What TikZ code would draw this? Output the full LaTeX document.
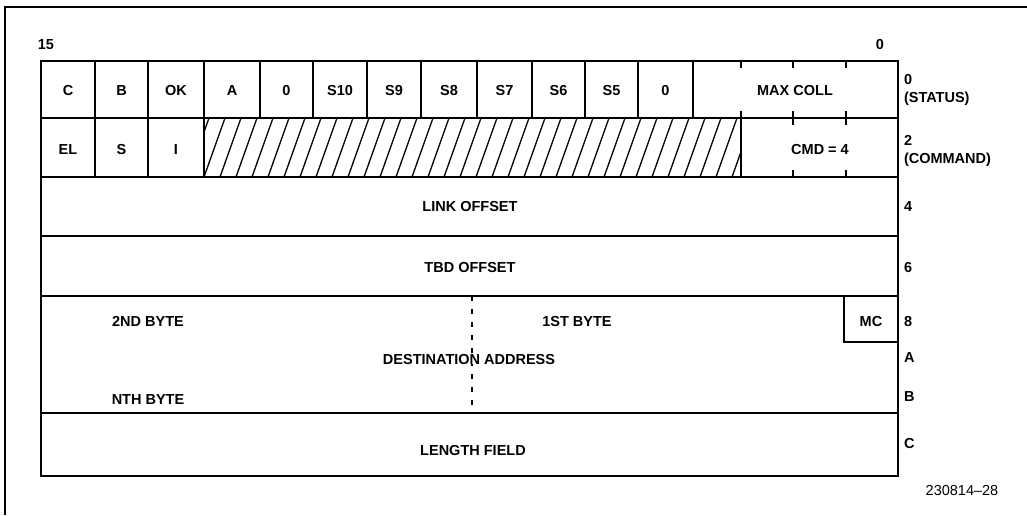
\documentclass[tikz,border=0pt]{standalone}
\usepackage{fontspec}
\setmainfont{Liberation Sans}
\begin{document}
\begin{tikzpicture}[x=1pt, y=-1pt, line width=2pt,
        every node/.style={font=\bfseries\fontsize{14.5}{18}\selectfont, inner sep=1pt},
        side/.style={anchor=west, align=left}]
    \useasboundingbox (0,0) rectangle (1027,515);
    \draw[line width=1.2pt] (5,515) -- (5,7) -- (1027,7);
    % block outline and rows
    \draw (41,61) rectangle (898,476);
    \foreach \y in {118,177,236,296,413}
        \draw (41,\y) -- (898,\y);
    \foreach \x in {95,148,204,260,313,367,421,477,532,585,638,693}
        \draw (\x,61) -- (\x,118);
    \foreach \x in {95,148,204}
        \draw (\x,118) -- (\x,177);
    \draw (741,111) -- (741,177);
    \draw (741,61) -- (741,68);
    \foreach \x in {793,846} {
        \draw (\x,61) -- (\x,68);
        \draw (\x,111) -- (\x,125);
        \draw (\x,170) -- (\x,177);
    }
    % unused bits
    \begin{scope}
        \clip (204,118) rectangle (741,177);
        \foreach \x in {188,204,...,760}
            \draw[line width=1.3pt] (\x,177) -- (\x+21,118);
    \end{scope}
    \draw (844,296) |- (898,342);
    \draw[dash pattern=on 5pt off 8pt] (472,296) -- (472,413);

    \node (hi) at (46,45) {15};
    \node (lo) at (880,45) {0};
    \foreach \l/\r/\t/\n in {41/95/C/c, 95/148/B/b, 148/204/OK/ok, 204/260/A/a,
            260/313/0/z, 313/367/S10/s10, 367/421/S9/s9, 421/477/S8/s8,
            477/532/S7/s7, 532/585/S6/s6, 585/638/S5/s5, 638/693/0/zz}
        \node (\n) at ({(\l+\r)/2},91) {\t};
    \node (maxcoll) at (795,91) {MAX COLL};
    \node (el) at (68,150) {EL};
    \node (s) at (121.5,150) {S};
    \node (i) at (176,150) {I};
    \node (cmd) at (820,150) {CMD = 4};
    \node (link) at (470,207) {LINK OFFSET};
    \node (tbd) at (470,267) {TBD OFFSET};
    \node (second) at (148,321) {2ND BYTE};
    \node (first) at (577,321) {1ST BYTE};
    \node[fill=white, inner sep=0pt] (dest) at (469,359) {DESTINATION ADDRESS};
    \node (nth) at (148,400) {NTH BYTE};
    \node (mc) at (871,321) {MC};
    \node (len) at (473,450) {LENGTH FIELD};

    \node[side] (off0) at (902,90) {0\\(STATUS)};
    \node[side] (off2) at (902,151) {2\\(COMMAND)};
    \node[side] (off4) at (902,207) {4};
    \node[side] (off6) at (902,267) {6};
    \node[side] (off8) at (902,321) {8};
    \node[side] (offa) at (902,358) {A};
    \node[side] (offb) at (902,397) {B};
    \node[side] (offc) at (902,443) {C};
    \node[font=\fontsize{14.5}{18}\selectfont] (fig) at (962,490) {230814--28};
\end{tikzpicture}
\end{document}
